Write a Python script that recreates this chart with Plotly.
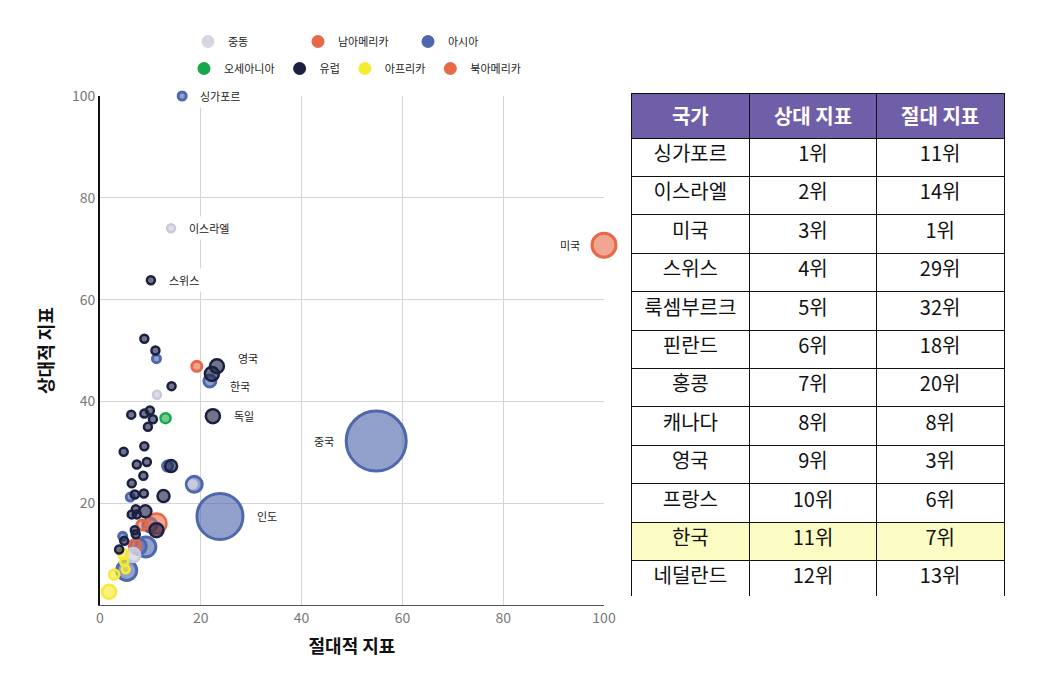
import plotly.graph_objects as go

# region data: (absolute index, relative index, bubble weight, label)
me_x = [14.1, 11.3, 18.4, 6.6]
me_y = [74.0, 41.3, 23.7, 9.8]
me_w = [8, 8, 8, 14]
me_lbl = ["이스라엘", "", "", ""]

asia_x = [16.3, 11.2, 21.8, 13.4, 6.0, 18.7, 54.8, 23.8, 9.9, 4.5, 7.6, 9.1, 5.3]
asia_y = [100.0, 48.4, 44.0, 27.3, 21.2, 23.7, 32.2, 17.4, 15.7, 13.5, 11.5, 11.4, 6.8]
asia_w = [8, 8, 12, 10, 8, 16, 60, 46, 14, 8, 16, 20, 20]
asia_lbl = ["싱가포르", "", "한국", "", "", "", "중국", "인도", "", "", "", "", ""]

eu_x = [10.1, 8.8, 11.0, 23.2, 22.2, 14.2, 22.4, 6.2, 8.8, 9.9, 10.5, 9.5, 8.8, 4.7,
        7.3, 9.3, 8.6, 14.1, 6.3, 6.9, 8.7, 12.6, 7.1, 9.0, 6.3, 7.3, 11.2, 6.9, 7.1,
        4.8, 3.8]
eu_y = [63.8, 52.3, 50.0, 46.9, 45.4, 43.0, 37.1, 37.4, 37.6, 38.2, 36.5, 35.0, 31.2,
        30.1, 27.6, 28.1, 25.4, 27.3, 23.9, 21.7, 21.9, 21.4, 18.8, 18.4, 17.8, 17.8,
        14.7, 14.7, 13.9, 12.6, 10.9]
eu_w = [8, 8, 8, 14, 14, 8, 14, 8, 8, 8, 8, 8, 8, 8, 8, 8, 8, 12, 8, 8, 8, 12, 8, 12,
        8, 8, 14, 8, 8, 8, 8]
eu_lbl = ["스위스", "", "", "영국", "", "", "독일"] + [""] * 24

oc_x = [13.0]
oc_y = [36.7]
oc_w = [10]

af_x = [4.6, 4.8, 5.1, 2.8, 1.8]
af_y = [10.0, 8.5, 7.0, 6.0, 2.6]
af_w = [10, 8, 8, 10, 14]

na_x = [100.0, 19.2, 8.3]
na_y = [70.7, 46.9, 15.7]
na_w = [24, 10, 10]
na_lbl = ["미국", "", ""]

sa_x = [11.2, 6.9]
sa_y = [16.0, 11.7]
sa_w = [20, 12]

# ranking table
countries = ["싱가포르", "이스라엘", "미국", "스위스", "룩셈부르크", "핀란드",
             "홍콩", "캐나다", "영국", "프랑스", "한국", "네덜란드"]
rel_rank = ["1위", "2위", "3위", "4위", "5위", "6위", "7위", "8위", "9위", "10위", "11위", "12위"]
abs_rank = ["11위", "14위", "1위", "29위", "32위", "18위", "20위", "8위", "3위", "6위", "7위", "13위"]

FONT = "Noto Sans CJK KR"
W, H = 1041, 678
OFF = 8  # page body margin


def px_x(p):
    return (p - OFF) / W


def px_y(p):
    return 1 - (p - OFF) / H


# legend colour, bubble fill, bubble ring
colors = {
    "중동": ("#d6d6e4", "rgba(214,214,228,0.8)", "#c9c9db"),
    "남아메리카": ("#e8694a", "rgba(232,105,74,0.6)", "#e8694a"),
    "아시아": ("#4f68ad", "rgba(79,104,173,0.62)", "#4f68ad"),
    "오세아니아": ("#14a84a", "rgba(20,168,74,0.6)", "#14a84a"),
    "유럽": ("#1b2042", "rgba(27,32,66,0.62)", "#1b2042"),
    "아프리카": ("#f7ea34", "rgba(247,234,52,0.65)", "#f7ea34"),
    "북아메리카": ("#e8694a", "rgba(232,105,74,0.6)", "#e8694a"),
}

fig = go.Figure()

series = [
    ("아시아", asia_x, asia_y, asia_w),
    ("남아메리카", sa_x, sa_y, sa_w),
    ("북아메리카", na_x, na_y, na_w),
    ("중동", me_x, me_y, me_w),
    ("아프리카", af_x, af_y, af_w),
    ("오세아니아", oc_x, oc_y, oc_w),
    ("유럽", eu_x, eu_y, eu_w),
]
for name, xs, ys, ws in series:
    solid, fill, ring = colors[name]
    fig.add_trace(go.Scatter(
        x=xs, y=ys, mode="markers", name=name, showlegend=False,
        cliponaxis=False, hoverinfo="x+y+name",
        marker=dict(size=ws, sizemode="diameter", color=fill, opacity=1,
                    line=dict(color=ring, width=3 if max(ws) > 20 else 2.5)),
    ))

# legend entries, two rows
row1 = ["중동", "남아메리카", "아시아"]
row2 = ["오세아니아", "유럽", "아프리카", "북아메리카"]
for name in row1:
    fig.add_trace(go.Scatter(x=[None], y=[None], mode="markers", name=name,
                             marker=dict(size=13, color=colors[name][0]), legend="legend"))
for name in row2:
    fig.add_trace(go.Scatter(x=[None], y=[None], mode="markers", name=name,
                             marker=dict(size=13, color=colors[name][0]), legend="legend2"))

# point labels (small vertical nudges where labels sit off-centre)
nudge = {"영국": 8, "한국": -5}


def add_labels(xs, ys, ws, lbls):
    for x, y, w, t in zip(xs, ys, ws, lbls):
        if not t:
            continue
        right = x > 40
        fig.add_annotation(
            x=x, y=y, text=t, showarrow=False,
            xanchor="right" if right else "left",
            xshift=-(w / 2 + 8) if right else (w / 2 + 10),
            yshift=nudge.get(t, 0),
            font=dict(family=FONT, size=11, color="#222"),
            bgcolor="white", borderpad=3,
        )


add_labels(me_x, me_y, me_w, me_lbl)
add_labels(asia_x, asia_y, asia_w, asia_lbl)
add_labels(eu_x, eu_y, eu_w, eu_lbl)
add_labels(na_x, na_y, na_w, na_lbl)

fig.add_trace(go.Table(
    domain=dict(x=[px_x(631), px_x(1005)], y=[px_y(596), px_y(93)]),
    columnwidth=[119, 127, 128],
    header=dict(
        values=["<b>국가</b>", "<b>상대 지표</b>", "<b>절대 지표</b>"],
        fill_color="#6f5fa9", line_color="#111", height=40,
        font=dict(family=FONT, size=20, color="white"), align="center",
    ),
    cells=dict(
        values=[countries, rel_rank, abs_rank],
        fill_color=[["#fbfbc4" if c == "한국" else "white" for c in countries]] * 3,
        line_color="#111", height=38.4,
        font=dict(family=FONT, size=20, color="#111"), align="center",
    ),
))

fig.update_layout(
    width=W, height=H,
    margin=dict(l=0, r=0, t=0, b=0),
    plot_bgcolor="white", paper_bgcolor="white",
    font=dict(family=FONT),
    xaxis=dict(
        domain=[px_x(100), px_x(604)], range=[0, 100], automargin=False,
        tickvals=[0, 20, 40, 60, 80, 100], showgrid=True, gridcolor="#d4d4d4",
        zeroline=False, showline=True, linecolor="#555", linewidth=1,
        tickfont=dict(size=14, color="#777"), ticks="",
        title=dict(text="<b>절대적 지표</b>", font=dict(size=18, color="#111"), standoff=14),
    ),
    yaxis=dict(
        domain=[px_y(605), px_y(96)], range=[0, 100], automargin=False,
        tickvals=[20, 40, 60, 80, 100], showgrid=True, gridcolor="#d4d4d4",
        zeroline=False, showline=True, linecolor="#111", linewidth=2,
        tickfont=dict(size=14, color="#777"), ticks="",
        title=dict(text="<b>상대적 지표</b>", font=dict(size=18, color="#111"), standoff=14),
    ),
    legend=dict(orientation="h", x=px_x(188), y=px_y(27), xanchor="left", yanchor="top",
                entrywidth=65, itemwidth=30, font=dict(size=11, color="#222"),
                bgcolor="rgba(0,0,0,0)"),
    legend2=dict(orientation="h", x=px_x(184), y=px_y(54), xanchor="left", yanchor="top",
                 itemwidth=30, font=dict(size=11, color="#222"),
                 bgcolor="rgba(0,0,0,0)"),
)

fig.write_html("out.html")
